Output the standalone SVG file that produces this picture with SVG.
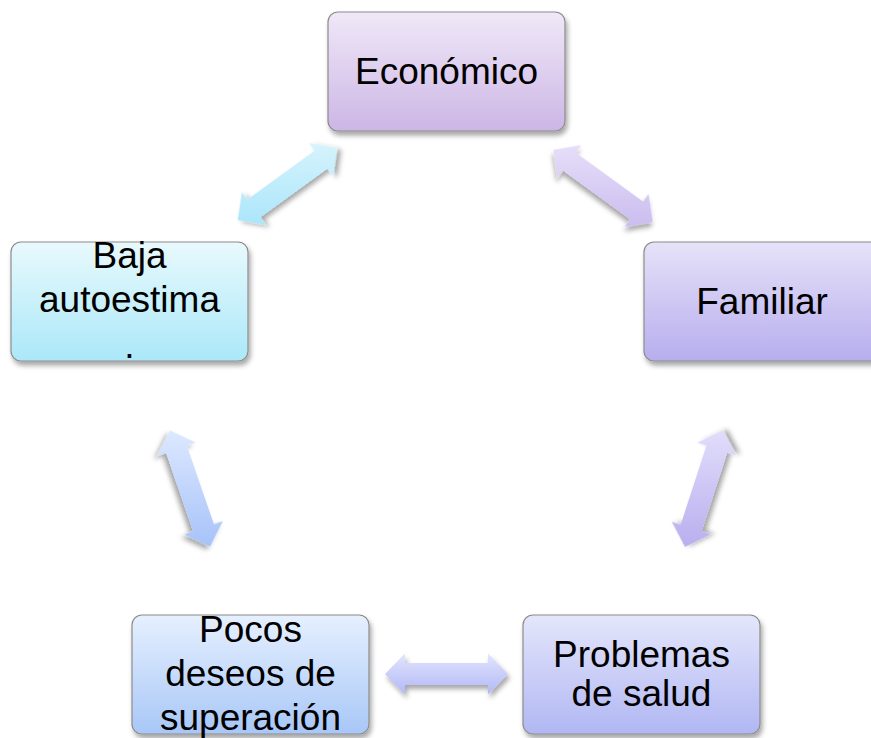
<svg xmlns="http://www.w3.org/2000/svg" width="871" height="738" viewBox="0 0 871 738">
  <defs>
    <filter id="sh" x="-20%" y="-20%" width="150%" height="150%">
      <feDropShadow dx="2" dy="4" stdDeviation="2.5" flood-color="#000" flood-opacity="0.35"/>
    </filter>
    <linearGradient id="gEco" x1="0" y1="0" x2="0" y2="1"><stop offset="0" stop-color="#f0e8f8"/><stop offset="1" stop-color="#ccb6e5"/></linearGradient>
    <linearGradient id="gBaja" x1="0" y1="0" x2="0" y2="1"><stop offset="0" stop-color="#e8f9fd"/><stop offset="1" stop-color="#abe8f9"/></linearGradient>
    <linearGradient id="gFam" x1="0" y1="0" x2="0" y2="1"><stop offset="0" stop-color="#e6e2f8"/><stop offset="1" stop-color="#b7aeee"/></linearGradient>
    <linearGradient id="gPoc" x1="0" y1="0" x2="0" y2="1"><stop offset="0" stop-color="#e6f0ff"/><stop offset="1" stop-color="#a8c7f7"/></linearGradient>
    <linearGradient id="gPro" x1="0" y1="0" x2="0" y2="1"><stop offset="0" stop-color="#e4e6fb"/><stop offset="1" stop-color="#b1b7f3"/></linearGradient>
    <linearGradient id="a1" gradientUnits="userSpaceOnUse" x1="0" y1="-50" x2="0" y2="50" gradientTransform="rotate(36)"><stop offset="0" stop-color="#daf5fd"/><stop offset="1" stop-color="#a6e4fa"/></linearGradient>
    <linearGradient id="a2" gradientUnits="userSpaceOnUse" x1="0" y1="-50" x2="0" y2="50" gradientTransform="rotate(-36)"><stop offset="0" stop-color="#e9e2fa"/><stop offset="1" stop-color="#c8b9ee"/></linearGradient>
    <linearGradient id="a3" gradientUnits="userSpaceOnUse" x1="0" y1="-60" x2="0" y2="60" gradientTransform="rotate(-71)"><stop offset="0" stop-color="#dde9ff"/><stop offset="1" stop-color="#a6c2f9"/></linearGradient>
    <linearGradient id="a4" gradientUnits="userSpaceOnUse" x1="0" y1="-60" x2="0" y2="60" gradientTransform="rotate(72)"><stop offset="0" stop-color="#e2defb"/><stop offset="1" stop-color="#b8aeef"/></linearGradient>
    <linearGradient id="a5" gradientUnits="userSpaceOnUse" x1="0" y1="-20.5" x2="0" y2="20.5"><stop offset="0" stop-color="#e2e5fd"/><stop offset="1" stop-color="#b2b8f7"/></linearGradient>
    <path id="arr" d="M-61.5,0 L-41.5,-20.5 L-41.5,-11 L41.5,-11 L41.5,-20.5 L61.5,0 L41.5,20.5 L41.5,11 L-41.5,11 L-41.5,20.5 Z"/>
  </defs>
  <style>
    .box{stroke:#8c8c8c;stroke-width:1.2;filter:url(#sh)}
    .t{font-family:"Liberation Sans",Arial,sans-serif;font-size:37px;fill:#000;text-anchor:middle}
    .arrow{filter:url(#sh)}
  </style>
  <rect width="871" height="738" fill="#ffffff"/>

  <g id="connectors">
    <use href="#arr" class="arrow" fill="url(#a1)" transform="translate(287.5,184) rotate(-36)"/>
    <use href="#arr" class="arrow" fill="url(#a2)" transform="translate(603,186) rotate(36)"/>
    <use href="#arr" class="arrow" fill="url(#a3)" transform="translate(190,488.5) rotate(71)"/>
    <use href="#arr" class="arrow" fill="url(#a4)" transform="translate(704,488.5) rotate(-72)"/>
    <use href="#arr" class="arrow" fill="url(#a5)" transform="translate(446.5,674)"/>
  </g>

  <g id="economico">
    <rect class="box" x="328" y="12" width="237" height="119" rx="10" fill="url(#gEco)"/>
    <text class="t" x="446.5" y="84">Económico</text>
  </g>

  <g id="baja">
    <rect class="box" x="11" y="242" width="237" height="119" rx="10" fill="url(#gBaja)"/>
    <text class="t" x="129.5" y="268">Baja</text>
    <text class="t" x="129.5" y="312">autoestima</text>
    <text class="t" x="129.5" y="358">.</text>
  </g>

  <g id="familiar">
    <rect class="box" x="644" y="242" width="237" height="119" rx="10" fill="url(#gFam)"/>
    <text class="t" x="762" y="314">Familiar</text>
  </g>

  <g id="pocos">
    <rect class="box" x="132" y="615" width="237" height="119" rx="10" fill="url(#gPoc)"/>
    <text class="t" x="250.5" y="642">Pocos</text>
    <text class="t" x="250.5" y="686">deseos de</text>
    <text class="t" x="250.5" y="730">superación</text>
  </g>

  <g id="problemas">
    <rect class="box" x="523" y="615" width="237" height="119" rx="10" fill="url(#gPro)"/>
    <text class="t" x="641.5" y="667">Problemas</text>
    <text class="t" x="641.5" y="706">de salud</text>
  </g>
</svg>
